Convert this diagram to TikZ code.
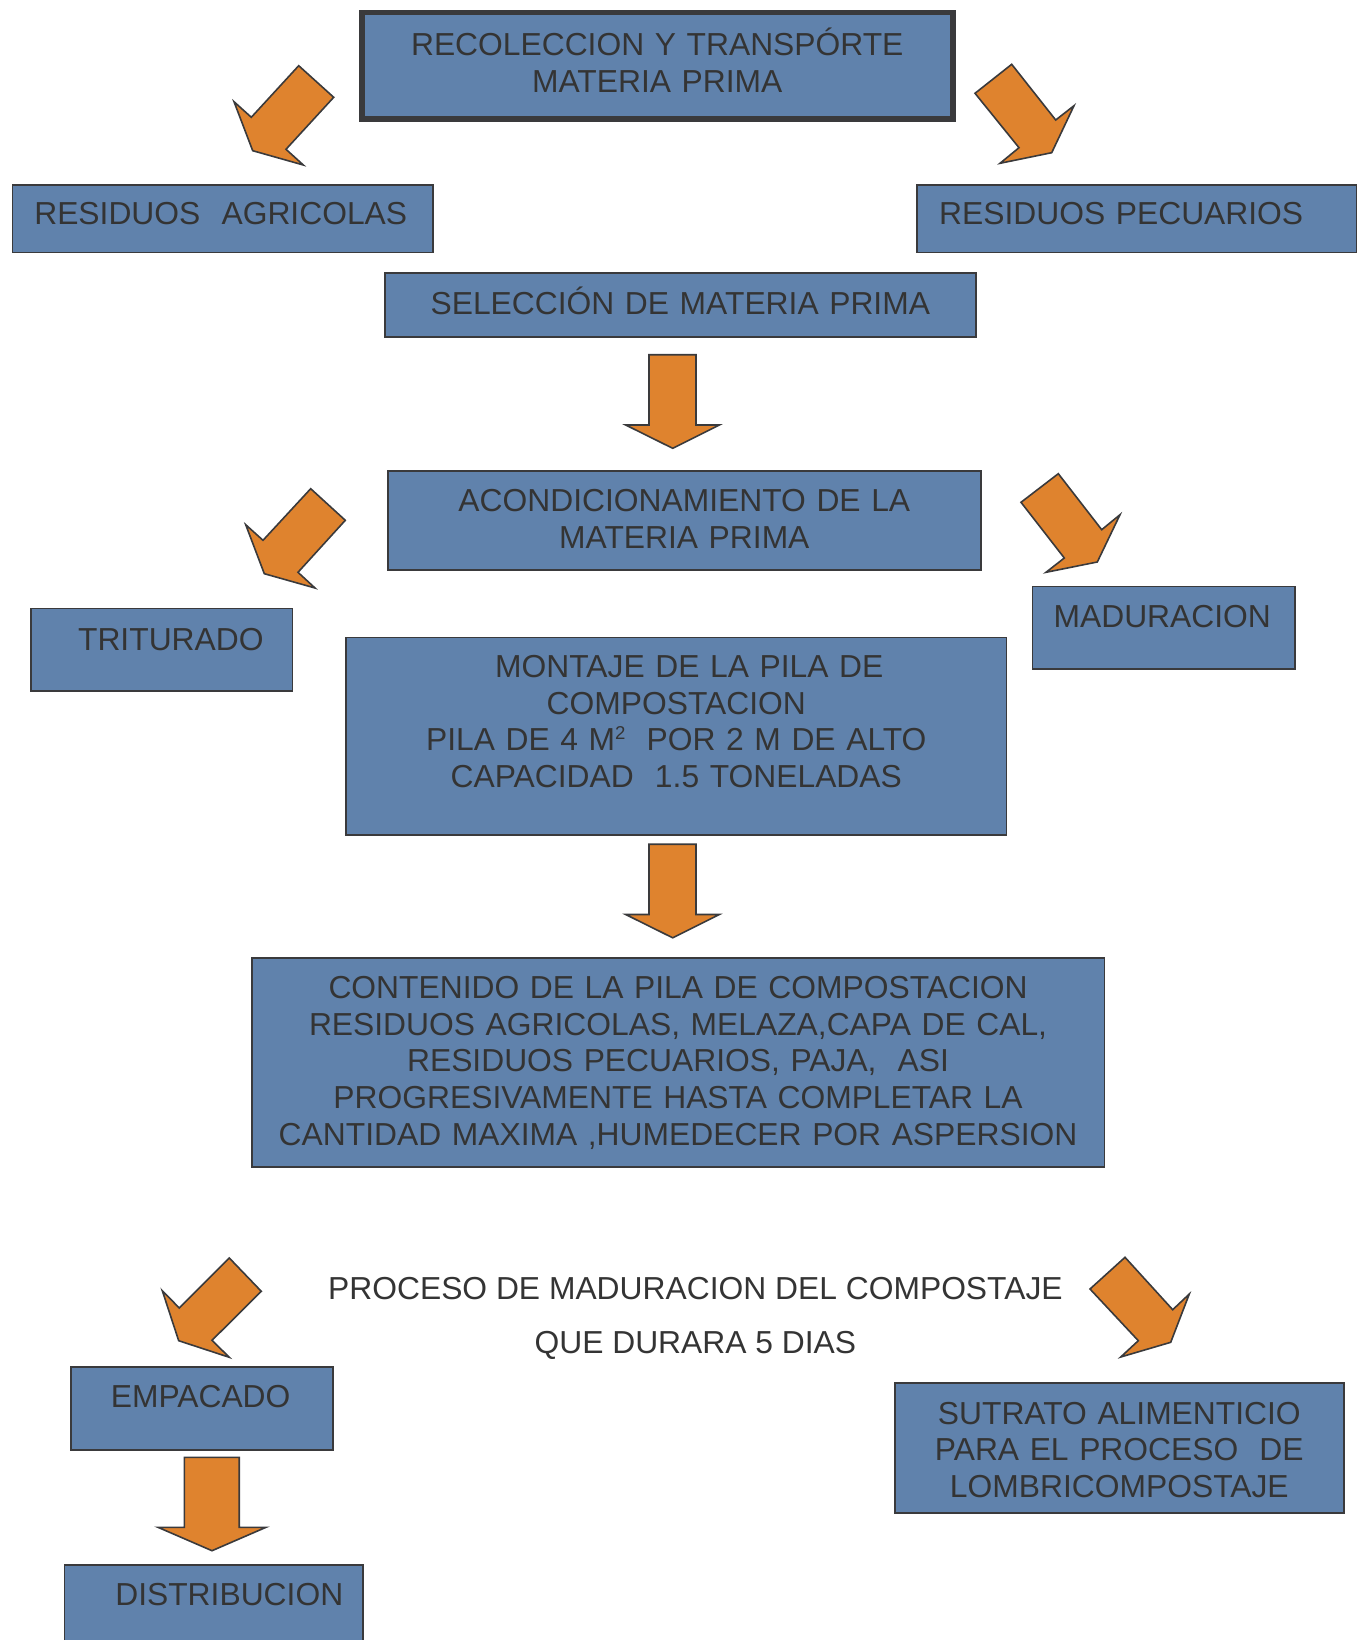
\documentclass[tikz,border=0pt]{standalone}
\usepackage{fontspec}
\setmainfont{Liberation Sans}
\usepackage{tikz}

\definecolor{boxblue}{RGB}{96,130,172}
\definecolor{edgegray}{RGB}{58,58,60}
\definecolor{inkgray}{RGB}{52,52,52}
\definecolor{arroworange}{RGB}{223,131,46}
\newcommand{\boxfont}{\fontsize{31.8}{36.6}\selectfont}
\newcommand{\smalltwo}{\raisebox{11pt}{\fontsize{18.6}{18.6}\selectfont 2}}

\begin{document}
\begin{tikzpicture}[x=1pt, y=-1pt,
    box/.style={draw=edgegray, fill=boxblue, line width=1.6pt, text=inkgray, font=\boxfont, inner sep=0pt, anchor=north west},
    boxdims/.style n args={3}{text width=#1, text height=#2, text depth=#3},
    lpad/.style={align=left, execute at begin node=\hspace*{#1}},
    blockarrow/.style={draw=edgegray, fill=arroworange, line width=1.6pt},
    note/.style={text=inkgray, font=\boxfont, inner sep=0pt, anchor=base}]

            \useasboundingbox (0,0) rectangle (1364,1640);
            \clip (0,0) rectangle (1364,1640);

            % Boxes
            \node[box, line width=5.5pt, align=center, boxdims={591pt}{43.25pt}{63pt}] (recol) at (359,10) {RECOLECCION Y TRANSPÓRTE\\MATERIA PRIMA};
            \node[box, lpad=22pt, boxdims={420.5pt}{39.5pt}{27.5pt}] (agri) at (11.5,184.5) {RESIDUOS~~AGRICOLAS};
            \node[box, lpad=22pt, boxdims={439.2pt}{39.5pt}{27.5pt}] (pecu) at (916.4,184.5) {RESIDUOS PECUARIOS};
            \node[box, align=center, boxdims={591pt}{41.7pt}{22.3pt}] (selec) at (384,272) {SELECCIÓN DE MATERIA PRIMA};
            \node[box, align=center, boxdims={593pt}{40.7pt}{58.6pt}] (acond) at (387,470) {ACONDICIONAMIENTO DE LA\\MATERIA PRIMA};
            \node[box, lpad=47pt, boxdims={261.4pt}{41.7pt}{41pt}] (tritu) at (30.3,607.7) {TRITURADO};
            \node[box, lpad=21pt, boxdims={262.2pt}{41pt}{41.6pt}] (madur) at (1031.8,585.7) {MADURACION};
            \node[box, align=center, boxdims={660.5pt}{40pt}{157.3pt}] (monta) at (345.2,636.7) {\hspace*{26pt}MONTAJE DE LA PILA DE\\COMPOSTACION\\PILA DE 4 M\smalltwo~~POR 2 M DE ALTO\\CAPACIDAD~~1.5 TONELADAS};
            \node[box, align=center, boxdims={852.5pt}{40.8pt}{168.5pt}] (conte) at (251,957) {CONTENIDO DE LA PILA DE COMPOSTACION\\RESIDUOS AGRICOLAS, MELAZA,CAPA DE CAL,\\RESIDUOS PECUARIOS, PAJA,~~ASI\\PROGRESIVAMENTE HASTA COMPLETAR LA\\CANTIDAD MAXIMA ,HUMEDECER POR ASPERSION};

            % Text between the arrows
            \node[note] (proce) at (695.4,1299.3) {PROCESO DE MADURACION DEL COMPOSTAJE};
            \node[note] (durar) at (695.4,1353.3) {QUE DURARA 5 DIAS};

            \node[box, lpad=40pt, boxdims={262.2pt}{40.7pt}{42.3pt}] (empac) at (70,1366) {EMPACADO};
            \node[box, align=center, boxdims={449pt}{41pt}{88.7pt}] (sutra) at (894,1382.3) {SUTRATO ALIMENTICIO\\PARA EL PROCESO~~DE\\LOMBRICOMPOSTAJE};
            \node[box, lpad=50.7pt, boxdims={298.2pt}{40.7pt}{60pt}] (distr) at (63.8,1564.3) {DISTRIBUCION};

            % Straight block arrows
            \draw[blockarrow] (649,354.7) -- (696,354.7) -- (696,425) -- (719.3,425) -- (672.7,448.3) -- (625.7,425) -- (649,425) -- cycle;
            \draw[blockarrow] (649,844.2) -- (696,844.2) -- (696,914.5) -- (719.3,914.5) -- (672.7,937.8) -- (625.7,914.5) -- (649,914.5) -- cycle;
            \draw[blockarrow] (184.4,1457.3) -- (239.2,1457.3) -- (239.2,1527.3) -- (266,1527.3) -- (212,1550.7) -- (158,1527.3) -- (184.4,1527.3) -- cycle;

            % Slanted block arrows (left)
            \draw[blockarrow] (298.7,65.7) -- (333.7,97.3) -- (286,149.3) -- (303.3,165) -- (252.7,150.7) -- (234,101.7) -- (251.3,117.3) -- cycle;
            \draw[blockarrow] (310.7,488.7) -- (345.3,520.3) -- (298,572.3) -- (315,588) -- (264.3,573.7) -- (245.7,524.7) -- (263,540.3) -- cycle;
            \draw[blockarrow] (229.3,1258) -- (261.3,1291.3) -- (212,1340.3) -- (229.3,1357.3) -- (178.7,1340.7) -- (162.3,1290.7) -- (179.3,1308) -- cycle;

            % Slanted block arrows (right)
            \draw[blockarrow] (1011.7,64.3) -- (1055.7,120) -- (1074,105.7) -- (1051.7,152.7) -- (1000,163.3) -- (1019,147.7) -- (975,93.3) -- cycle;
            \draw[blockarrow] (1058.3,473.7) -- (1101.7,529.7) -- (1120,514.7) -- (1097.3,562) -- (1046,572.3) -- (1064.3,558) -- (1021,502.3) -- cycle;
            \draw[blockarrow] (1125,1257.3) -- (1172.7,1309.7) -- (1189.3,1294) -- (1170.7,1342.3) -- (1120.7,1357) -- (1138.3,1340.7) -- (1090,1289) -- cycle;
\end{tikzpicture}
\end{document}
